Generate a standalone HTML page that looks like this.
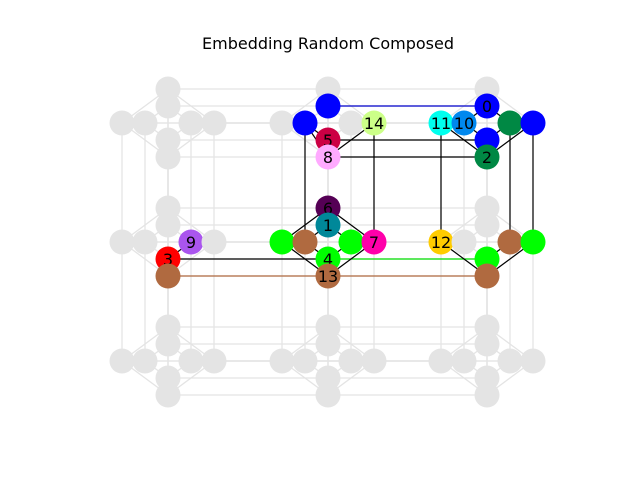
<!DOCTYPE html>
<html><head><meta charset="utf-8"><style>
body{margin:0;background:#fff}
svg{display:block;font-family:"DejaVu Sans","Liberation Sans",sans-serif}
</style></head><body>
<svg id="c" width="640" height="480">
<text x="328" y="49" text-anchor="middle" font-size="16">Embedding Random Composed</text>
<g id="gray"></g><g id="edges"></g><g id="nodes"></g>
</svg>
<script>
const clusterX=[168,328,487];
const clusterY=[123,242,361];
const offsets=[[0,-34],[0,-17],[-46,0],[-23,0],[23,0],[46,0],[0,17],[0,34]];
const diamondEdges=[[0,2],[2,7],[7,5],[5,0],[1,3],[3,6],[6,4],[4,1]];
const nodesData=[
[1,0,1,'#0000ff',''],[1,0,3,'#0000ff',''],[1,0,6,'#cc0044','5'],[1,0,7,'#ffaaff','8'],[1,0,5,'#ccff88','14'],
[2,0,1,'#0000ff','0'],[2,0,3,'#0088ee','10'],[2,0,2,'#00ffee','11'],[2,0,4,'#008844',''],[2,0,5,'#0000ff',''],[2,0,6,'#0000ff',''],[2,0,7,'#008844','2'],
[1,1,0,'#550055','6'],[1,1,1,'#008899','1'],[1,1,2,'#00ff00',''],[1,1,3,'#b06a40',''],[1,1,4,'#00ff00',''],[1,1,5,'#ff00aa','7'],[1,1,6,'#00ff00','4'],[1,1,7,'#b06a40','13'],
[2,1,2,'#ffcc00','12'],[2,1,4,'#b06a40',''],[2,1,5,'#00ff00',''],[2,1,6,'#00ff00',''],[2,1,7,'#b06a40',''],
[0,1,4,'#aa55ee','9'],[0,1,6,'#ff0000','3'],[0,1,7,'#b06a40','']
];
const edgeData=[
[[1,0,3],[1,1,3],'#000'],[[1,0,5],[1,1,5],'#000'],[[2,0,2],[2,1,2],'#000'],[[2,0,4],[2,1,4],'#000'],[[2,0,5],[2,1,5],'#000'],
[[1,0,6],[2,0,6],'#000'],[[1,0,7],[2,0,7],'#000'],[[1,0,1],[2,0,1],'#0000cc'],
[[0,1,6],[1,1,6],'#000'],[[1,1,6],[2,1,6],'#00dd00'],[[0,1,7],[2,1,7],'#b06a40'],
[[1,0,7],[1,0,5],'#000'],[[1,0,7],[1,0,3],'#000'],[[1,0,6],[1,0,3],'#000'],
[[2,0,7],[2,0,2],'#000'],[[2,0,7],[2,0,5],'#000'],[[2,0,6],[2,0,3],'#000'],[[2,0,6],[2,0,4],'#000'],[[2,0,1],[2,0,3],'#000'],[[2,0,1],[2,0,4],'#000'],
[[1,1,0],[1,1,2],'#000'],[[1,1,0],[1,1,5],'#000'],[[1,1,7],[1,1,2],'#000'],[[1,1,7],[1,1,5],'#000'],[[1,1,1],[1,1,3],'#000'],[[1,1,1],[1,1,4],'#000'],[[1,1,6],[1,1,3],'#000'],[[1,1,6],[1,1,4],'#000'],
[[2,1,7],[2,1,2],'#000'],[[2,1,7],[2,1,5],'#000'],[[2,1,6],[2,1,4],'#000'],
[[0,1,6],[0,1,4],'#000']
];
const NS='http://www.w3.org/2000/svg';
function pos(c,r,o){return [clusterX[c]+offsets[o][0],clusterY[r]+offsets[o][1]];}
function line(g,a,b,col,w){const l=document.createElementNS(NS,'line');
l.setAttribute('x1',a[0]);l.setAttribute('y1',a[1]);l.setAttribute('x2',b[0]);l.setAttribute('y2',b[1]);
l.setAttribute('stroke',col);l.setAttribute('stroke-width',w);


g.appendChild(l);}
const gray=document.getElementById('gray'),eg=document.getElementById('edges'),ng=document.getElementById('nodes');
for(let c=0;c<3;c++)for(let r=0;r<3;r++){
 diamondEdges.forEach(e=>line(gray,pos(c,r,e[0]),pos(c,r,e[1]),'#e4e4e4',1.3));
 for(let o=0;o<8;o++){
  if(c<2)line(gray,pos(c,r,o),pos(c+1,r,o),'#e4e4e4',1.3);
  if(r<2)line(gray,pos(c,r,o),pos(c,r+1,o),'#e4e4e4',1.3);
 }}
edgeData.forEach(e=>line(eg,pos(...e[0]),pos(...e[1]),e[2],1.2));
const colored={};nodesData.forEach(n=>colored[n[0]+','+n[1]+','+n[2]]=n);
const order=[0,1,2,3,4,5,6,7];
for(let c=0;c<3;c++)for(let r=0;r<3;r++)order.forEach(o=>{
 const k=c+','+r+','+o;const n=colored[k];const p=pos(c,r,o);
 const ci=document.createElementNS(NS,'circle');
 ci.setAttribute('cx',p[0]);ci.setAttribute('cy',p[1]);ci.setAttribute('r',12.5);
 ci.setAttribute('fill',n?n[3]:'#e4e4e4');
 
 
 ng.appendChild(ci);
 if(n&&n[4]){const t=document.createElementNS(NS,'text');
  t.setAttribute('x',p[0]);t.setAttribute('y',p[1]+6);t.setAttribute('text-anchor','middle');t.setAttribute('font-size','16');
  t.textContent=n[4];
  
  
  ng.appendChild(t);}
});
</script>
</body></html>
